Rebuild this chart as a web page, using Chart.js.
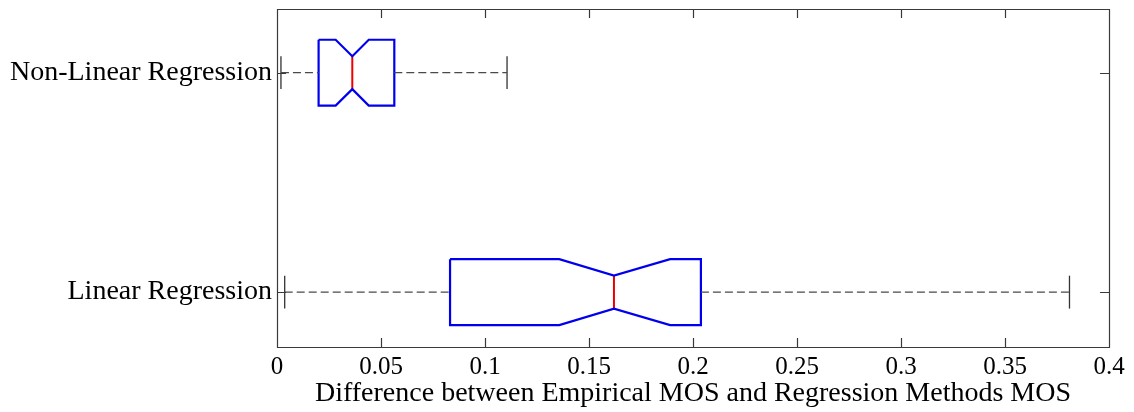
<!DOCTYPE html>
<html>
<head>
<meta charset="utf-8">
<script src="https://cdn.jsdelivr.net/npm/chart.js@4.4.1/dist/chart.umd.min.js"></script>
<style>
  html, body { margin: 0; padding: 0; background: #fff; }
</style>
</head>
<body>
<canvas id="boxChart" width="1134" height="412"></canvas>
<script>
// Groups, bottom to top (drawn at y = 1, 2)
var categories = ['Linear Regression', 'Non-Linear Regression'];

// Box plot statistics
var whiskerLow  = [0.0037, 0.0019];
var q1          = [0.0832, 0.0200];
var notchLow    = [0.1357, 0.0282];
var medians     = [0.1620, 0.0362];
var notchHigh   = [0.1890, 0.0441];
var q3          = [0.2038, 0.0564];
var whiskerHigh = [0.3810, 0.1106];

// Axis ticks and title
var xTicks = [0, 0.05, 0.1, 0.15, 0.2, 0.25, 0.3, 0.35, 0.4];
var xTitle = 'Difference between Empirical MOS and Regression Methods MOS';

// Box geometry in y units (half heights)
var BOX_HALF = 0.15;
var NOTCH_HALF = 0.075;
var CAP_HALF = 0.075;
var FONT = 'Liberation Serif';

// Builds a plain line dataset from a list of points
function line(points, color, width, dash) {
    return {
        data: points,
        showLine: true,
        borderColor: color,
        borderWidth: width,
        borderDash: dash || [],
        pointRadius: 0,
        pointHoverRadius: 0,
        fill: false,
        tension: 0
    };
}

var datasets = [];
categories.forEach(function(name, i) {
    var y = i + 1;
    // dashed whiskers
    datasets.push(line([{x: whiskerLow[i], y: y}, {x: q1[i], y: y}], '#4a4a4a', 1.3, [8, 4]));
    datasets.push(line([{x: q3[i], y: y}, {x: whiskerHigh[i], y: y}], '#4a4a4a', 1.3, [8, 4]));
    // whisker end caps
    datasets.push(line([{x: whiskerLow[i], y: y - CAP_HALF}, {x: whiskerLow[i], y: y + CAP_HALF}], '#333', 1.3));
    datasets.push(line([{x: whiskerHigh[i], y: y - CAP_HALF}, {x: whiskerHigh[i], y: y + CAP_HALF}], '#333', 1.3));
    // notched box outline
    datasets.push(line([
        {x: q1[i], y: y + BOX_HALF},
        {x: notchLow[i], y: y + BOX_HALF},
        {x: medians[i], y: y + NOTCH_HALF},
        {x: notchHigh[i], y: y + BOX_HALF},
        {x: q3[i], y: y + BOX_HALF},
        {x: q3[i], y: y - BOX_HALF},
        {x: notchHigh[i], y: y - BOX_HALF},
        {x: medians[i], y: y - NOTCH_HALF},
        {x: notchLow[i], y: y - BOX_HALF},
        {x: q1[i], y: y - BOX_HALF},
        {x: q1[i], y: y + BOX_HALF}
    ], '#0000ee', 2.2));
    // median
    datasets.push(line([{x: medians[i], y: y - NOTCH_HALF}, {x: medians[i], y: y + NOTCH_HALF}], '#ee0000', 2));
});

// Draws the axes box with inward tick marks on all four sides
var framePlugin = {
    id: 'frame',
    afterDatasetsDraw: function(chart) {
        var ctx = chart.ctx;
        var a = chart.chartArea;
        var xs = chart.scales.x;
        var ys = chart.scales.y;
        var len = 9;
        ctx.save();
        ctx.strokeStyle = '#3a3a3a';
        ctx.lineWidth = 1.2;
        ctx.beginPath();
        ctx.rect(Math.round(a.left) + 0.5, Math.round(a.top) + 0.5,
                 Math.round(a.right - a.left), Math.round(a.bottom - a.top));
        xTicks.forEach(function(v) {
            var px = Math.round(xs.getPixelForValue(v)) + 0.5;
            ctx.moveTo(px, a.bottom);
            ctx.lineTo(px, a.bottom - len);
            ctx.moveTo(px, a.top);
            ctx.lineTo(px, a.top + len);
        });
        categories.forEach(function(c, i) {
            var py = Math.round(ys.getPixelForValue(i + 1)) + 0.5;
            ctx.moveTo(a.left, py);
            ctx.lineTo(a.left + len, py);
            ctx.moveTo(a.right, py);
            ctx.lineTo(a.right - len, py);
        });
        ctx.stroke();
        ctx.restore();
    }
};

var ctx = document.getElementById('boxChart').getContext('2d');
var boxChart = new Chart(ctx, {
    type: 'scatter',
    data: { datasets: datasets },
    options: {
        responsive: false,
        animation: false,
        events: [],
        layout: { padding: { top: 9, right: 25, left: 0, bottom: 0 } },
        plugins: {
            legend: { display: false },
            tooltip: { enabled: false }
        },
        scales: {
            x: {
                type: 'linear',
                position: 'bottom',
                min: 0,
                max: 0.4,
                afterBuildTicks: function(scale) {
                    scale.ticks = xTicks.map(function(v) { return {value: v}; });
                },
                afterFit: function(scale) {
                    scale.height = 65;
                    scale.paddingLeft = 0;
                    scale.paddingRight = 0;
                },
                grid: { display: false, drawTicks: false },
                border: { display: false },
                ticks: {
                    padding: 5,
                    color: '#000',
                    font: { family: FONT, size: 25 },
                    maxRotation: 0,
                    callback: function(v) { return String(+v.toFixed(2)); }
                },
                title: {
                    display: true,
                    text: xTitle,
                    color: '#000',
                    font: { family: FONT, size: 28 },
                    padding: { top: 0, bottom: 2 }
                }
            },
            y: {
                type: 'linear',
                min: 0.75,
                max: 2.29,
                afterBuildTicks: function(scale) {
                    scale.ticks = categories.map(function(c, i) { return {value: i + 1}; });
                },
                afterFit: function(scale) {
                    scale.width = 277;
                    scale.paddingTop = 0;
                    scale.paddingBottom = 0;
                },
                grid: { display: false, drawTicks: false },
                border: { display: false },
                ticks: {
                    padding: 5,
                    color: '#000',
                    font: { family: FONT, size: 28 },
                    callback: function(v) { return categories[v - 1]; }
                }
            }
        }
    },
    plugins: [framePlugin]
});
</script>
</body>
</html>
